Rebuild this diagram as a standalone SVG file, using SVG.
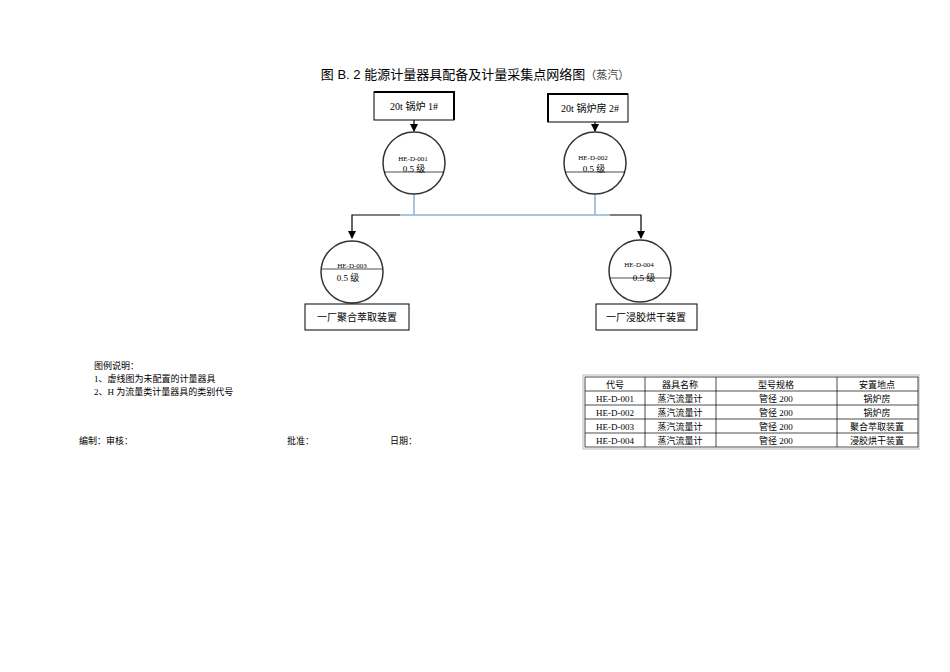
<svg xmlns="http://www.w3.org/2000/svg" width="950" height="672" viewBox="0 0 950 672">
<style>
.s{font-family:"Liberation Serif","Noto Sans CJK SC",serif;fill:#000}
.h{font-family:"Liberation Sans","Noto Sans CJK SC",sans-serif;fill:#000}
.b{fill:#fff;stroke:#000;stroke-width:1}
.c{fill:#fff;stroke:#333;stroke-width:1.5}
.l{stroke:#000;stroke-width:1.2;fill:none}
.bl{stroke:#8fb0d0;stroke-width:1.5;fill:none}
.g{stroke:#000;stroke-width:0.7}
</style>
<defs><marker id="a" markerWidth="8" markerHeight="8" refX="7" refY="4" orient="auto" markerUnits="userSpaceOnUse"><path d="M0,0L8,4L0,8z" fill="#000"/></marker></defs>
<rect width="950" height="672" fill="#fff"/>
<text class="h" x="475" y="79" font-size="13" text-anchor="middle">图 B. 2 能源计量器具配备及计量采集点网络图<tspan font-size="11" fill="#444">（蒸汽）</tspan></text>
<g id="connectors">
<line class="l" x1="414" y1="120" x2="414" y2="131" marker-end="url(#a)"/>
<line class="l" x1="595" y1="122" x2="595" y2="131" marker-end="url(#a)"/>
<line class="bl" x1="414" y1="194" x2="414" y2="215"/>
<line class="bl" x1="595" y1="194" x2="595" y2="215"/>
<line class="bl" x1="400" y1="215" x2="610" y2="215"/>
<polyline class="l" points="400,215 352,215 352,238" marker-end="url(#a)"/>
<polyline class="l" points="610,215 641,215 641,238" marker-end="url(#a)"/>
</g>
<g id="box1"><rect class="b" x="374" y="92" width="80" height="28"/><path d="M374,92H454V120" stroke="#000" stroke-width="2" fill="none"/><text class="s" x="414" y="110" font-size="10" text-anchor="middle">20t 锅炉 1#</text></g>
<g id="box2"><rect class="b" x="548" y="94" width="80" height="28"/><path d="M548,122V94H628" stroke="#000" stroke-width="2" fill="none"/><text class="s" x="590" y="112" font-size="10" text-anchor="middle">20t 锅炉房 2#</text></g>
<g id="n1"><circle class="c" cx="414" cy="163" r="31"/><line class="g" x1="384" y1="172" x2="444" y2="172"/><text class="s" x="413" y="161" font-size="7" text-anchor="middle">HE-D-001</text><text class="s" x="414" y="172" font-size="9" text-anchor="middle">0.5 级</text></g>
<g id="n2"><circle class="c" cx="595" cy="163" r="31"/><line class="g" x1="565" y1="172" x2="625" y2="172"/><text class="s" x="593" y="160" font-size="7" text-anchor="middle">HE-D-002</text><text class="s" x="594" y="172" font-size="9" text-anchor="middle">0.5 级</text></g>
<g id="n3"><circle class="c" cx="352" cy="272" r="31"/><text class="s" x="352" y="268" font-size="7" text-anchor="middle">HE-D-003</text><line class="g" x1="322" y1="269" x2="382" y2="269"/><text class="s" x="348" y="281" font-size="9" text-anchor="middle">0.5 级</text></g>
<g id="n4"><circle class="c" cx="640" cy="271" r="31"/><text class="s" x="639" y="267" font-size="7" text-anchor="middle">HE-D-004</text><text class="s" x="644" y="281" font-size="9" text-anchor="middle">0.5 级</text><line class="g" x1="610" y1="278" x2="670" y2="278"/></g>
<g id="box3"><rect class="b" x="305" y="304" width="104" height="26"/><text class="s" x="357" y="321" font-size="10" text-anchor="middle">一厂聚合萃取装置</text></g>
<g id="box4"><rect class="b" x="596" y="304" width="101" height="26"/><text class="s" x="646" y="321" font-size="10" text-anchor="middle">一厂浸胶烘干装置</text></g>
<g id="legend" class="s" font-size="9">
<text x="94" y="369">图例说明：</text>
<text x="94" y="382">1、虚线图为未配置的计量器具</text>
<text x="94" y="395">2、H 为流量类计量器具的类别代号</text>
<text x="79" y="444">编制：审核：</text>
<text x="287" y="444">批准：</text>
<text x="390" y="444">日期：</text>
</g>
<g id="table" class="s" font-size="9" text-anchor="middle">
<rect x="583" y="375" width="336" height="74" fill="none" stroke="#bbb"/>
<g stroke="#000" stroke-width="0.7">
<rect x="585" y="377" width="333" height="70" fill="none"/>
<line x1="585" y1="391" x2="918" y2="391"/><line x1="585" y1="405" x2="918" y2="405"/><line x1="585" y1="419" x2="918" y2="419"/><line x1="585" y1="433" x2="918" y2="433"/>
<line x1="645" y1="377" x2="645" y2="447"/><line x1="716" y1="377" x2="716" y2="447"/><line x1="837" y1="377" x2="837" y2="447"/>
</g>
<text x="615" y="388">代号</text><text x="680" y="388">器具名称</text><text x="776" y="388">型号规格</text><text x="877" y="388">安置地点</text>
<text x="615" y="402">HE-D-001</text><text x="680" y="402">蒸汽流量计</text><text x="776" y="402">管径 200</text><text x="877" y="402">锅炉房</text>
<text x="615" y="416">HE-D-002</text><text x="680" y="416">蒸汽流量计</text><text x="776" y="416">管径 200</text><text x="877" y="416">锅炉房</text>
<text x="615" y="430">HE-D-003</text><text x="680" y="430">蒸汽流量计</text><text x="776" y="430">管径 200</text><text x="877" y="430">聚合萃取装置</text>
<text x="615" y="444">HE-D-004</text><text x="680" y="444">蒸汽流量计</text><text x="776" y="444">管径 200</text><text x="877" y="444">浸胶烘干装置</text>
</g>
</svg>
